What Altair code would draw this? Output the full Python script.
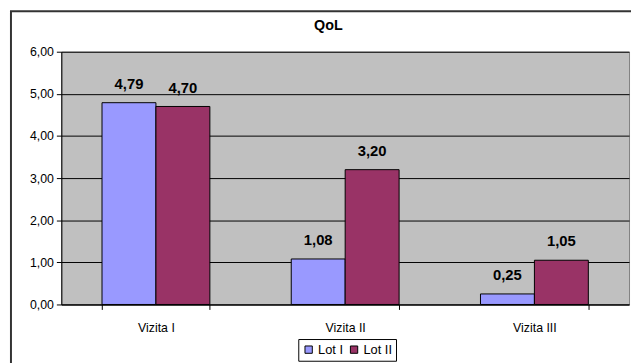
import altair as alt
import pandas as pd

visits = ["Vizita I", "Vizita II", "Vizita III"]
lots = ["Lot I", "Lot II"]
lot1 = [4.79, 1.08, 0.25]
lot2 = [4.70, 3.20, 1.05]
colors = ["#9999FF", "#993366"]

rows = []
for i, v in enumerate(visits):
    rows.append({"visit": v, "lot": lots[0], "value": lot1[i]})
    rows.append({"visit": v, "lot": lots[1], "value": lot2[i]})
df = pd.DataFrame(rows)

FONT = "Liberation Sans"

base = alt.Chart(df).transform_calculate(
    label="replace(format(datum.value, '.2f'), '.', ',')"
)

x_enc = alt.X("visit:N", sort=visits, title=None,
              scale=alt.Scale(paddingInner=0.43, paddingOuter=0.215),
              axis=alt.Axis(labelAngle=0, tickBand="extent", tickSize=5,
                            labelPadding=12, labelFontSize=12.5, labelFont=FONT,
                            labelColor="black", domainColor="black", tickColor="black",
                            grid=False))
xo_enc = alt.XOffset("lot:N", sort=lots, scale=alt.Scale(paddingInner=0, paddingOuter=0))
y_enc = alt.Y("value:Q", title=None,
              scale=alt.Scale(domain=[0, 6], nice=False),
              axis=alt.Axis(values=[0, 1, 2, 3, 4, 5, 6],
                            labelExpr="replace(format(datum.value, '.2f'), '.', ',')",
                            tickSize=5, labelPadding=3, labelFontSize=12.5, labelFont=FONT,
                            labelColor="black", domainColor="black", tickColor="black",
                            grid=True, gridColor="black", gridOpacity=1, gridWidth=1))

bars = base.mark_bar(stroke="black", strokeWidth=1).encode(
    x=x_enc, xOffset=xo_enc, y=y_enc,
    color=alt.Color("lot:N", sort=lots, scale=alt.Scale(domain=lots, range=colors),
                    legend=alt.Legend(title=None, orient="none", legendX=240, legendY=291,
                                      direction="horizontal", symbolType="square",
                                      symbolSize=55, symbolStrokeColor="black",
                                      symbolStrokeWidth=1, labelFont=FONT, labelFontSize=13,
                                      labelColor="black", strokeColor="black", padding=4,
                                      columnPadding=4, labelOffset=3, cornerRadius=0,
                                      fillColor="white")),
)

labels = base.mark_text(baseline="middle", dy=-19, fontWeight="bold", fontSize=15,
                        font=FONT, color="black").encode(
    x=x_enc, xOffset=xo_enc, y=y_enc, text="label:N"
)

frame = alt.Chart(pd.DataFrame({"a": [0]})).mark_rect(
    fill=None, stroke="#333333", strokeWidth=2
).encode(x=alt.value(-51), y=alt.value(-41), x2=alt.value(800), y2=alt.value(600))

chart = alt.layer(frame, bars, labels).properties(
    width=575, height=256,
    background="white",
    title=alt.TitleParams("QoL", fontSize=14.5, fontWeight="bold", font=FONT,
                          color="black", offset=-24, dx=-17, anchor="middle",
                          frame="group"),
    padding={"left": 54, "right": 2, "top": 42, "bottom": 57},
    autosize=alt.AutoSizeParams(type="none"),
).configure_view(fill="#C0C0C0", stroke="#808080", strokeWidth=1)

chart.save("out.html", embed_options={"renderer": "svg", "actions": False})
